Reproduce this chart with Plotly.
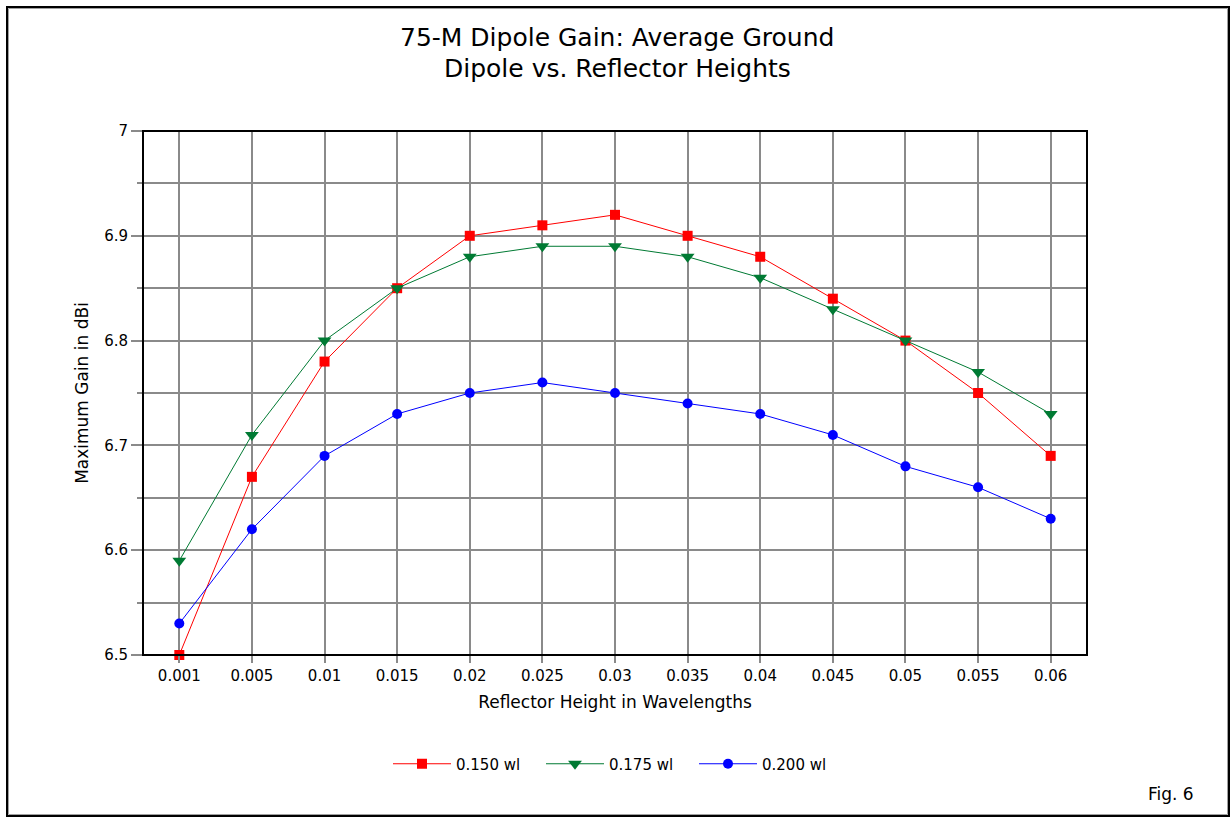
import plotly.graph_objects as go

categories = ["0.001", "0.005", "0.01", "0.015", "0.02", "0.025", "0.03",
              "0.035", "0.04", "0.045", "0.05", "0.055", "0.06"]
gain_150 = [6.50, 6.67, 6.78, 6.85, 6.90, 6.91, 6.92, 6.90, 6.88, 6.84, 6.80, 6.75, 6.69]
gain_175 = [6.59, 6.71, 6.80, 6.85, 6.88, 6.89, 6.89, 6.88, 6.86, 6.83, 6.80, 6.77, 6.73]
gain_200 = [6.53, 6.62, 6.69, 6.73, 6.75, 6.76, 6.75, 6.74, 6.73, 6.71, 6.68, 6.66, 6.63]
series_names = ["0.150 wl", "0.175 wl", "0.200 wl"]
y_tickvals = [6.5, 6.6, 6.7, 6.8, 6.9, 7.0]
y_ticktext = ["6.5", "6.6", "6.7", "6.8", "6.9", "7"]

W, H = 1231, 820
L, R, T, B = 143, 1087, 131, 655
FONT = "DejaVu Sans, Liberation Sans, Arial, sans-serif"
GRID = "#8a8a8a"

def px(x):
    return (x - L) / (R - L)

def py(y):
    return (B - y) / (B - T)

fig = go.Figure()
styles = [("#ff0000", "square", 10), ("#007a33", "triangle-down", 12), ("#0000ff", "circle", 10)]
for name, vals, (col, sym, sz) in zip(series_names, [gain_150, gain_175, gain_200], styles):
    fig.add_trace(go.Scatter(
        x=categories, y=vals, name=name, mode="lines+markers",
        line=dict(color=col, width=1),
        marker=dict(color=col, symbol=sym, size=sz, line=dict(width=0)),
        cliponaxis=False,
    ))

fig.update_layout(
    width=W, height=H,
    margin=dict(l=L, r=W - R, t=T, b=H - B, pad=0),
    paper_bgcolor="white", plot_bgcolor="white",
    font=dict(family=FONT, size=15, color="black"),
    showlegend=True,
    legend=dict(orientation="h", x=px(388), xanchor="left", y=py(764), yanchor="middle",
                font=dict(size=15), bgcolor="rgba(0,0,0,0)", itemwidth=58,
                entrywidth=80, entrywidthmode="pixels",
                traceorder="normal"),
    xaxis=dict(
        type="category", range=[-0.5, 12.5],
        showgrid=True, gridcolor=GRID, gridwidth=1.5,
        ticks="outside", ticklen=7, tickcolor=GRID, tickwidth=1.5,
        tickfont=dict(size=15),
        showline=False, zeroline=False, fixedrange=True,
        title=dict(text="Reflector Height in Wavelengths", font=dict(size=17), standoff=12),
    ),
    yaxis=dict(
        range=[6.5, 7.0],
        tickvals=y_tickvals, ticktext=y_ticktext,
        showgrid=True, gridcolor=GRID, gridwidth=1.5,
        ticks="outside", ticklen=11, tickcolor=GRID, tickwidth=1.5,
        minor=dict(dtick=0.05, tick0=6.5, showgrid=True, gridcolor=GRID, gridwidth=1.5,
                   ticks="outside", ticklen=5, tickcolor=GRID, tickwidth=1.5),
        tickfont=dict(size=15), showline=False, zeroline=False, fixedrange=True,
        title=dict(text="Maximum Gain in dBi", font=dict(size=17), standoff=11),
    ),
    shapes=[
        dict(type="rect", xref="paper", yref="paper", x0=px(7), x1=px(1229), y0=py(816), y1=py(7),
             line=dict(color="black", width=2), layer="below"),
        dict(type="rect", xref="paper", yref="paper", x0=px(8.5), x1=px(1227.5), y0=py(814.5), y1=py(8.5),
             line=dict(color="#a0a0a0", width=1), layer="below"),
        dict(type="rect", xref="paper", yref="paper", x0=0, x1=1, y0=0, y1=1,
             line=dict(color="black", width=2), layer="above"),
    ],
    annotations=[
        dict(text="75-M Dipole Gain: Average Ground",
             xref="paper", yref="paper", x=px(617), y=py(37), xanchor="center", yanchor="middle",
             showarrow=False, font=dict(size=25, family=FONT)),
        dict(text="Dipole vs. Reflector Heights",
             xref="paper", yref="paper", x=px(617), y=py(68), xanchor="center", yanchor="middle",
             showarrow=False, font=dict(size=25, family=FONT)),
        dict(text="Fig. 6", xref="paper", yref="paper", x=px(1171), y=py(794),
             xanchor="center", yanchor="middle", showarrow=False, font=dict(size=17, family=FONT)),
    ],
)

fig.write_html("out.html", config={"displayModeBar": False},
               post_script="document.body.style.margin='0px';")
